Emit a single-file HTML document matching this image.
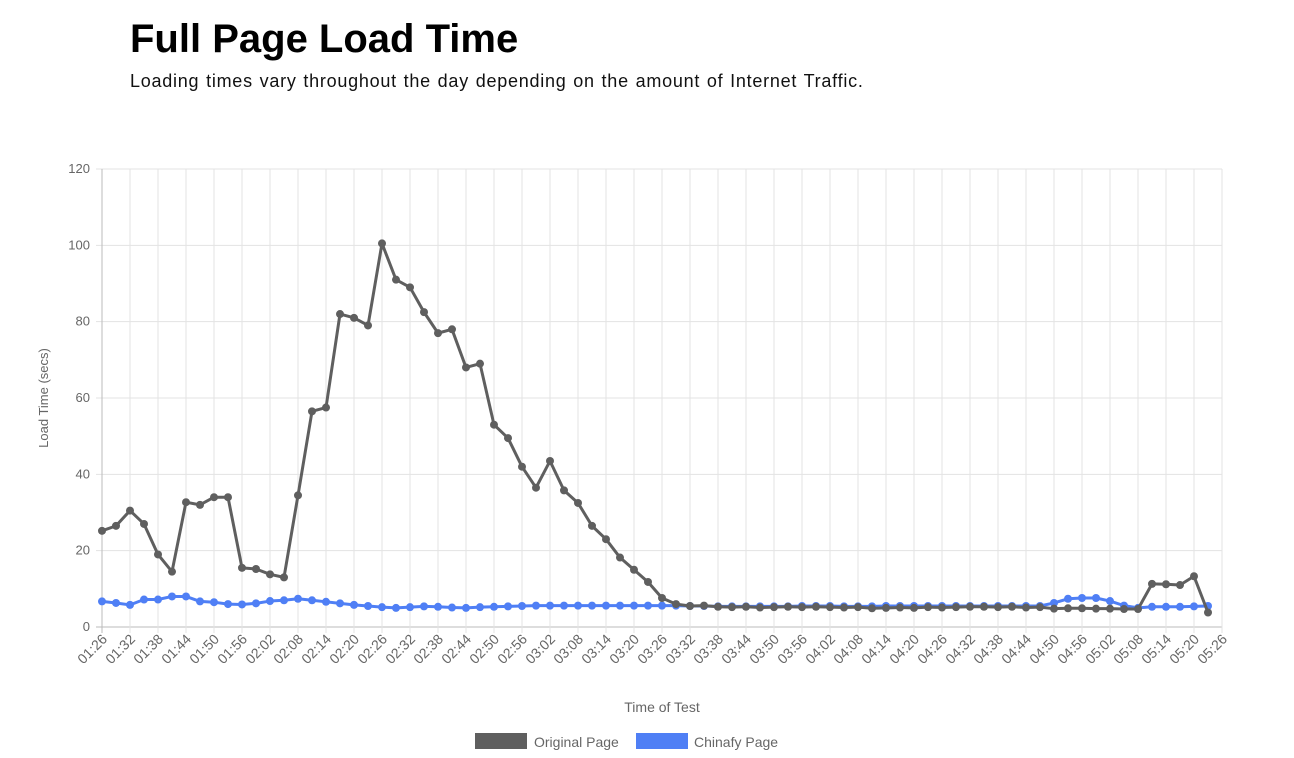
<!DOCTYPE html>
<html><head><meta charset="utf-8"><style>
body{margin:0;background:#fff;width:1294px;height:758px;overflow:hidden;font-family:"Liberation Sans",sans-serif}
h1{position:absolute;left:130px;top:17px;margin:0;font-size:40px;font-weight:bold;color:#000;letter-spacing:0px}
p{position:absolute;left:130px;top:71px;margin:0;font-size:18px;color:#111;letter-spacing:0.75px;word-spacing:1px}
svg{position:absolute;left:0;top:0}
</style></head><body>
<h1>Full Page Load Time</h1>
<p>Loading times vary throughout the day depending on the amount of Internet Traffic.</p>
<svg id="s" width="1294" height="758" font-family="Liberation Sans, sans-serif"></svg>
<script>
var g=[25.2,26.5,30.5,27,19,14.5,32.7,32,34,34,15.5,15.2,13.8,13,34.5,56.5,57.5,82,81,79,100.5,91,89,82.5,77,78,68,69,53,49.5,42,36.5,43.5,35.8,32.5,26.5,23,18.2,15,11.8,7.6,6,5.5,5.6,5.3,5.2,5.3,5.1,5.2,5.3,5.2,5.3,5.2,5.1,5.2,4.9,5,5.1,5,5.2,5.1,5.2,5.3,5.3,5.2,5.3,5.1,5.2,4.8,4.9,4.9,4.8,4.8,4.7,4.7,11.3,11.2,11,13.3,3.8];
var b=[6.7,6.3,5.8,7.2,7.2,8,8,6.7,6.5,6,5.9,6.2,6.8,7,7.4,7,6.6,6.2,5.8,5.5,5.2,5,5.2,5.4,5.3,5.1,5,5.2,5.3,5.4,5.5,5.6,5.6,5.6,5.6,5.6,5.6,5.6,5.6,5.6,5.6,5.6,5.5,5.5,5.4,5.4,5.4,5.4,5.4,5.4,5.5,5.5,5.5,5.4,5.4,5.4,5.5,5.5,5.5,5.5,5.5,5.5,5.5,5.5,5.5,5.5,5.5,5.5,6.3,7.4,7.6,7.6,6.8,5.6,5,5.3,5.3,5.3,5.4,5.5];
var X=function(i){return 102+14*i},Y=function(v){return 627-v*458/120};
var h='';
for(var k=0;k<=6;k++){var y=Y(k*20);h+='<line x1="96" x2="1222" y1="'+y+'" y2="'+y+'" stroke="'+(k==0?'#bbb':'#e3e3e3')+'"/>';
h+='<text x="90" y="'+(y+4)+'" font-size="13" fill="#666" text-anchor="end">'+(k*20)+'</text>';}
for(var j=0;j<=40;j++){var x=102+28*j;h+='<line x1="'+x+'" x2="'+x+'" y1="169" y2="633" stroke="'+(j==0?'#bbb':'#e3e3e3')+'"/>';
var m=86+6*j,hh=Math.floor(m/60),mm=m%60;var t='0'+hh+':'+(mm<10?'0':'')+mm;
h+='<text transform="translate('+(x+6)+',640) rotate(-45)" font-size="14" fill="#666" text-anchor="end">'+t+'</text>';}
function ser(d,c){var pts=d.map(function(v,i){return X(i)+','+Y(v)}).join(' ');
var s='<polyline points="'+pts+'" fill="none" stroke="'+c+'" stroke-width="3" stroke-linejoin="round"/>';
d.forEach(function(v,i){s+='<circle cx="'+X(i)+'" cy="'+Y(v)+'" r="4" fill="'+c+'"/>'});return s;}
h+=ser(b,'#4f7ff5')+ser(g,'#5f5f5f');
h+='<text transform="translate(48,398) rotate(-90)" font-size="13" fill="#666" text-anchor="middle">Load Time (secs)</text>';
h+='<text x="662" y="712" font-size="14" fill="#666" text-anchor="middle">Time of Test</text>';
h+='<rect x="475" y="733" width="52" height="16" fill="#5f5f5f"/><text x="534" y="747" font-size="14" fill="#666">Original Page</text>';
h+='<rect x="636" y="733" width="52" height="16" fill="#4f7ff5"/><text x="694" y="747" font-size="14" fill="#666">Chinafy Page</text>';
document.getElementById('s').innerHTML=h;
</script>
</body></html>
